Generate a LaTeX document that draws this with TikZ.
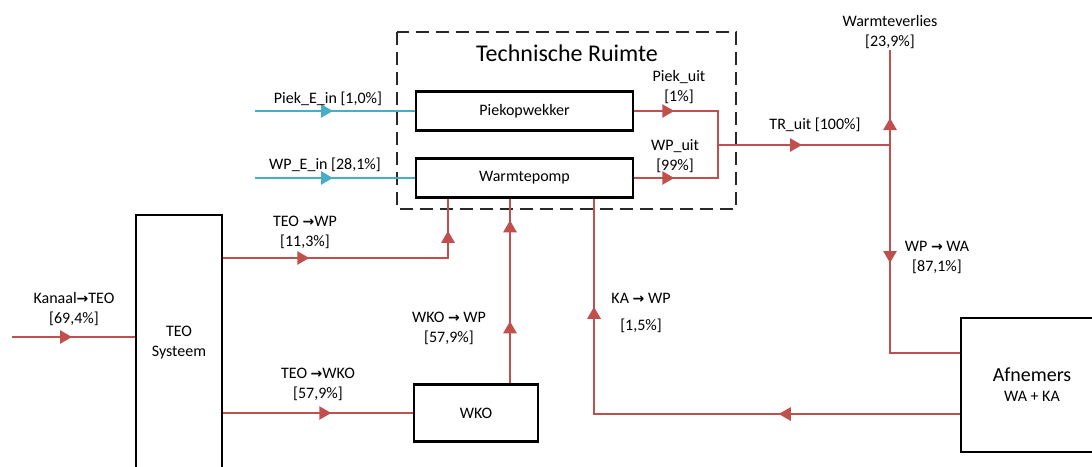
\documentclass[tikz,border=0pt]{standalone}
\usepackage{fontspec}
\setmainfont{Carlito}
\newfontfamily\symfont{DejaVu Sans}
\usetikzlibrary{arrows.meta,decorations.markings,positioning}

\definecolor{flowred}{RGB}{192,80,77}
\definecolor{flowblue}{RGB}{75,172,198}
\definecolor{kadergrijs}{RGB}{40,40,40}

% pijl in de labels
\newcommand{\pijl}{{\symfont\bfseries\fontsize{14}{20}\selectfont →}}

\tikzset{
  blok/.style={draw, line width=2.5pt, fill=white, align=center,
    font=\fontsize{16}{20}\selectfont},
  rood/.style={draw=flowred, line width=2.7pt},
  blauw/.style={draw=flowblue, line width=2.7pt},
  lbl/.style={align=center, inner sep=1pt, font=\fontsize{16}{20}\selectfont},
  kader/.style={draw=kadergrijs, line width=1.3pt, dash pattern=on 13pt off 7pt},
  pijlop/.style={postaction={decorate, decoration={markings,
    mark=at position #1 with {\arrow{Triangle[length=12pt,width=13pt]}}}}}
}

\begin{document}
\begin{tikzpicture}[x=1pt,y=-1pt]
  \useasboundingbox (0,0) rectangle (1092,466);
  \clip (0,0) rectangle (1092,466);

  % --- blokken ---
  \node[blok, minimum width=86pt, minimum height=256pt] (teo) at (179,343) {TEO\\Systeem};
  \node[blok, minimum width=217pt, minimum height=39pt] (piek) at (524.5,111) {Piekopwekker};
  \node[blok, minimum width=217pt, minimum height=39pt] (wp) at (524.5,178) {Warmtepomp};
  \node[blok, minimum width=124pt, minimum height=57pt] (wko) at (476,413) {WKO};
  \node[blok, minimum width=142pt, minimum height=134pt] (afn) at (1032,385)
    {{\fontsize{20}{21}\selectfont Afnemers}\\WA + KA};

  % technische ruimte
  \draw[kader] (397,32) rectangle (736,209);
  \node[font=\fontsize{24}{28}\selectfont] (titel) at (567,53) {Technische Ruimte};

  % vaste punten
  \coordinate (piekin) at (255,111);
  \coordinate (wpin) at (255,178);
  \coordinate (kanaal) at (12,337);
  \coordinate (merge) at (718,145);
  \coordinate (split) at (890,145);
  \coordinate (wkouit) at ([xshift=34pt]wko.north);

  \node[lbl] (verlies) at (890,32) {Warmteverlies\\{[}23,9\%{]}};

  % --- elektriciteit ---
  \draw[blauw, pijlop=78pt] (piekin) -- (piek.west);
  \draw[blauw, pijlop=78pt] (wpin) -- (wp.west);

  % --- warmte ---
  \draw[rood, pijlop=40pt] (piek.east) -| (merge);
  \draw[rood, pijlop=40pt] (wp.east) -| (merge);
  \draw[rood, pijlop=84pt] (merge) -- (split);
  \draw[rood, pijlop=27pt] (split) -- (verlies.south);
  \draw[rood, pijlop=118pt] (split) |- ([yshift=32pt]afn.west);
  \draw[rood, pijlop=181pt, pijlop=473pt] ([yshift=-29pt]afn.west) -| ([xshift=69.5pt]wp.south);
  \draw[rood, pijlop=86pt, pijlop=252pt] ([yshift=85pt]teo.east) -| ([xshift=-76.5pt]wp.south);
  \draw[rood, pijlop=108pt] ([yshift=-70pt]teo.east) -- (wko.west);
  \draw[rood, pijlop=62pt, pijlop=163pt] (wkouit) -- (wkouit |- wp.south);
  \draw[rood, pijlop=60pt] (kanaal) -- (kanaal -| teo.west);

  % --- labels ---
  \node[lbl] (lpiekin) at (328,99) {Piek\_E\_in {[}1,0\%{]}};
  \node[lbl] (lwpin) at (325,165) {WP\_E\_in {[}28,1\%{]}};
  \node[lbl] (lpiekuit) at (679,87) {Piek\_uit\\{[}1\%{]}};
  \node[lbl] (lwpuit) at (675,156) {WP\_uit\\{[}99\%{]}};
  \node[lbl] (ltruit) at (815,125) {TR\_uit {[}100\%{]}};
  \node[lbl] (lwpwa) at (937,257) {WP \pijl{} WA\\{[}87,1\%{]}};
  \node[lbl] (lteowp) at (305,232) {TEO \pijl WP\\{[}11,3\%{]}};
  \node[lbl] (lkanaal) at (74,309) {Kanaal\pijl TEO\\{[}69,4\%{]}};
  \node[lbl] (lteowko) at (318,384) {TEO \pijl WKO\\{[}57,9\%{]}};
  \node[lbl] (lwkowp) at (449,328) {WKO \pijl{} WP\\{[}57,9\%{]}};
  \node[lbl] (lkawp) at (641,313) {KA \pijl{} WP\\[7pt]{[}1,5\%{]}};
\end{tikzpicture}
\end{document}
